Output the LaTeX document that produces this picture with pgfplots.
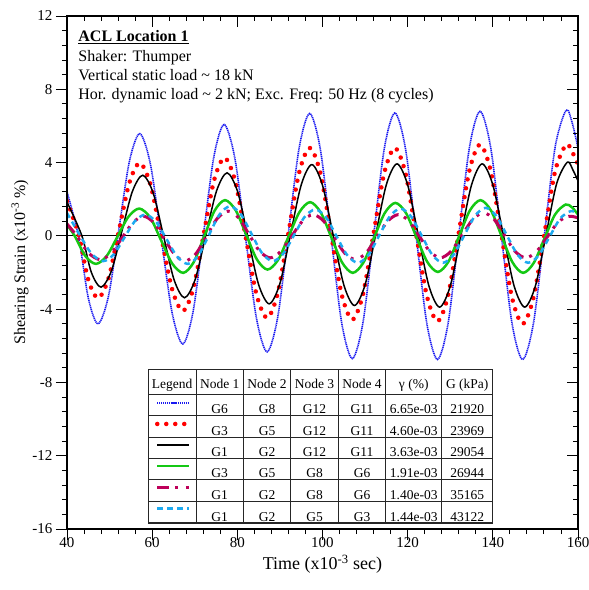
\documentclass[border=0pt]{standalone}
\usepackage{fontspec}
\setmainfont{Liberation Serif}
\usepackage{pgfplots}
\pgfplotsset{compat=1.18}
\definecolor{cblue}{RGB}{25,25,240}
\definecolor{cgreen}{RGB}{20,200,20}
\definecolor{cpurple}{RGB}{190,0,90}
\definecolor{ccyan}{RGB}{30,170,240}
\newcommand\tabfont{\fontsize{13.5}{16}\selectfont}
\newcommand\titfont{\fontsize{16}{19}\selectfont}
\newcommand\tabrow[7]{%
  \node[anchor=base,font=\tabfont] at (axis cs:75.86,#1) {#2};
  \node[anchor=base,font=\tabfont] at (axis cs:86.98,#1) {#3};
  \node[anchor=base,font=\tabfont] at (axis cs:98.13,#1) {#4};
  \node[anchor=base,font=\tabfont] at (axis cs:109.29,#1) {#5};
  \node[anchor=base,font=\tabfont] at (axis cs:121.43,#1) {#6};
  \node[anchor=base,font=\tabfont] at (axis cs:133.99,#1) {#7};
}
\begin{document}
\begin{tikzpicture}
\begin{axis}[
  width=511pt, height=513pt, scale only axis,
  xmin=40, xmax=160, ymin=-16, ymax=12,
  xtick={40,60,...,160}, ytick={-16,-12,...,12},
  minor x tick num=4, minor y tick num=4,
  xtick pos=left, ytick pos=left,
  tick align=outside,
  major tick length=11pt, minor tick length=5pt,
  tick style={black, line width=0.9pt},
  axis line style={line width=1.1pt},
  /pgf/number format/assume math mode=true,
  tick label style={font=\fontsize{15}{18}\selectfont},
  xticklabel style={yshift=6pt},
  xlabel={Time (x10\textsuperscript{-3} sec)},
  ylabel={Shearing Strain (x10\textsuperscript{-3} \%)},
  xlabel style={font=\fontsize{18}{21}\selectfont, at={(axis description cs:0.5,-0.068)}, anchor=center},
  ylabel style={font=\fontsize{16}{19}\selectfont, at={(axis description cs:-0.092,0.52)}, anchor=center},
  no markers,
  legend image code/.code={\path[draw=none,fill=none] (0pt,-10.55pt) rectangle (31.7pt,10.55pt); \draw[#1] (0pt,0pt) -- (31.7pt,0pt);},
  legend style={draw=none, fill=none, inner sep=0pt, outer sep=0pt, row sep=0pt, column sep=0pt,
    nodes={inner sep=0pt, outer sep=0pt}, at={(axis cs:60.67,-8.54)}, anchor=north west},
]
\addplot[forget plot, black, line width=1pt] coordinates {(40,0)(160,0)};

% G6-G8-G12-G11
\addplot[cblue, line width=1.6pt, dash pattern=on 1.2pt off 0.7pt, smooth] coordinates {
(40,2.4)(42.7,0)(45,-3.39)(47.3,-4.8)(49.75,-3.28)(52.2,0.39)(54.65,4.06)(57.1,5.58)(59.6,3.90)(62.15,-0.16)(64.7,-4.22)(67.2,-5.9)(69.6,-4.15)(72.05,0.09)(74.5,4.33)(76.9,6.08)(79.4,4.26)(81.95,-0.13)(84.5,-4.51)(87,-6.33)(89.5,-4.42)(92,0.18)(94.5,4.78)(97,6.68)(99.5,4.72)(102,-0.01)(104.5,-4.74)(107,-6.7)(109.5,-4.74)(112,0.0)(114.5,4.75)(117,6.71)(119.5,4.74)(122,-0.02)(124.5,-4.78)(127,-6.75)(129.5,-4.77)(132,0.03)(134.5,4.82)(137,6.8)(139.5,4.82)(142,0.03)(144.5,-4.77)(147,-6.75)(149.55,-4.76)(152.1,0.06)(154.65,4.87)(157.2,6.86)(158.6,6.2)(160,4.8)};
\addlegendentry{}
% G3-G5-G12-G11
\addplot[red, line width=4.5pt, line cap=round, dash pattern=on 0pt off 9pt, smooth] coordinates {
(40,1.9)(42.8,0)(45,-2.4)(47.3,-3.4)(49.75,-2.32)(52.2,0.29)(54.65,2.90)(57.1,3.98)(59.6,2.80)(62.15,-0.06)(64.7,-2.92)(67.2,-4.1)(69.65,-2.88)(72.1,0.08)(74.55,3.04)(77,4.26)(79.5,2.98)(82,-0.11)(84.5,-3.20)(87,-4.48)(89.5,-3.12)(92,0.16)(94.5,3.44)(97,4.8)(99.5,3.43)(102,0.12)(104.5,-3.20)(107,-4.57)(109.5,-3.20)(112,0.12)(114.5,3.43)(117,4.8)(119.5,3.41)(122,0.07)(124.5,-3.27)(127,-4.66)(129.5,-3.25)(132,0.16)(134.5,3.57)(137,4.98)(139.5,3.55)(142,0.09)(144.5,-3.37)(147,-4.8)(149.55,-3.37)(152.1,0.09)(154.65,3.55)(157.2,4.98)(158.6,4.6)(160,3.9)};
\addlegendentry{}
% G1-G2-G12-G11
\addplot[black, line width=1.5pt, smooth] coordinates {
(40,1.85)(43.5,0)(45.7,-1.98)(48,-2.8)(50.45,-1.90)(52.9,0.26)(55.35,2.42)(57.8,3.31)(60.25,2.33)(62.7,-0.04)(65.15,-2.40)(67.6,-3.38)(70.1,-2.38)(72.6,0.03)(75.1,2.44)(77.6,3.44)(80.1,2.39)(82.55,-0.14)(85,-2.66)(87.5,-3.71)(90,-2.60)(92.5,0.09)(95,2.78)(97.5,3.89)(100,2.76)(102.5,0.05)(105,-2.67)(107.5,-3.8)(110,-2.67)(112.5,0.07)(115,2.80)(117.5,3.93)(120,2.78)(122.5,0.02)(125,-2.74)(127.5,-3.89)(130,-2.74)(132.5,0.02)(135,2.78)(137.5,3.93)(140,2.78)(142.5,0.02)(145,-2.74)(147.5,-3.89)(150,-2.73)(152.5,0.07)(155,2.86)(157.5,4.02)(158.8,3.6)(160,3.0)};
\addlegendentry{}
% G3-G5-G8-G6
\addplot[cgreen, line width=2.5pt, smooth] coordinates {
(40,0.6)(41.8,0)(44.3,-1.1)(46.8,-1.53)(49.35,-1.09)(51.9,-0.02)(54.45,1.05)(57,1.49)(59.6,0.98)(62.15,-0.27)(64.7,-1.51)(67.3,-2.02)(69.75,-1.44)(72.2,-0.04)(74.65,1.37)(77.1,1.95)(79.6,1.40)(82.1,0.06)(84.6,-1.29)(87.1,-1.84)(89.6,-1.30)(92.1,0)(94.6,1.30)(97.1,1.84)(99.6,1.27)(102.1,-0.09)(104.6,-1.45)(107.1,-2.02)(109.6,-1.46)(112.1,-0.11)(114.6,1.24)(117.1,1.8)(119.6,1.25)(122.1,-0.09)(124.6,-1.42)(127.1,-1.97)(129.6,-1.40)(132.1,-0.01)(134.6,1.38)(137.1,1.95)(139.6,1.37)(142.1,-0.04)(144.6,-1.44)(147.1,-2.02)(149.6,-1.48)(152.1,-0.16)(154.6,1.16)(157.1,1.71)(158.6,1.55)(160,1.16)};
\addlegendentry{}
% G1-G2-G8-G6
\addplot[cpurple, line width=3pt, dash pattern=on 11.5pt off 6pt on 3pt off 8pt on 3pt off 6pt, smooth] coordinates {
(40,0.65)(42.3,0)(45,-0.92)(47.8,-1.3)(50.35,-0.95)(52.9,-0.12)(55.45,0.72)(58,1.07)(60.4,0.71)(62.85,-0.16)(65.3,-1.02)(67.7,-1.38)(70.25,-0.98)(72.75,-0.02)(75.3,0.95)(77.8,1.35)(80.3,0.98)(82.75,0.08)(85.2,-0.83)(87.7,-1.2)(90.2,-0.85)(92.75,-0.02)(95.3,0.81)(97.8,1.16)(100.3,0.80)(102.75,-0.07)(105.2,-0.94)(107.7,-1.29)(110.2,-0.94)(112.75,-0.07)(115.3,0.80)(117.8,1.16)(120.3,0.81)(122.75,-0.02)(125.2,-0.85)(127.7,-1.2)(130.2,-0.84)(132.75,0.03)(135.3,0.90)(137.8,1.26)(140.3,0.90)(142.75,0.03)(145.2,-0.84)(147.7,-1.2)(150.2,-0.87)(152.75,-0.07)(155.3,0.74)(157.8,1.07)(160,0.98)};
\addlegendentry{}
% G1-G2-G5-G3
\addplot[ccyan, line width=2.5pt, dash pattern=on 5.5pt off 4.5pt, smooth] coordinates {
(40,1.25)(43.1,0)(45.8,-0.98)(48.5,-1.38)(51,-1.01)(53.45,-0.11)(55.9,0.79)(58.4,1.16)(60.9,0.77)(63.4,-0.19)(65.9,-1.14)(68.4,-1.53)(70.85,-1.07)(73.35,0.05)(75.8,1.16)(78.3,1.62)(80.8,1.18)(83.3,0.12)(85.8,-0.94)(88.3,-1.38)(90.8,-0.97)(93.3,0.03)(95.8,1.03)(98.3,1.44)(100.8,1.02)(103.3,-0.02)(105.8,-1.05)(108.3,-1.47)(110.8,-1.04)(113.3,0.01)(115.8,1.06)(118.3,1.49)(120.8,1.06)(123.3,0.01)(125.8,-1.04)(128.3,-1.47)(130.8,-1.03)(133.3,0.03)(135.8,1.09)(138.3,1.53)(140.8,1.09)(143.3,0.03)(145.8,-1.03)(148.3,-1.47)(150.8,-1.06)(153.3,-0.06)(155.8,0.94)(158.3,1.35)(160,1.2)};
\addlegendentry{}

% title block
\node[anchor=base west, font=\titfont] at (axis cs:41.85,10.59) {\underline{\textbf{ACL Location 1}}};
\node[anchor=base west, font=\titfont] at (axis cs:41.85,9.50) {Shaker: Thumper};
\node[anchor=base west, font=\titfont] at (axis cs:41.85,8.50) {Vertical static load \textasciitilde{} 18 kN};
\node[anchor=base west, font=\titfont] at (axis cs:41.85,7.45) {Hor. dynamic load \textasciitilde{} 2 kN; Exc. Freq: 50 Hz (8 cycles)};

% table
\fill[white] (axis cs:59.09,-7.29) rectangle (axis cs:139.98,-15.67);
\draw[line width=0.8pt, black!85] (axis cs:59.09,-8.66) -- (axis cs:139.98,-8.66)
  (axis cs:59.09,-9.79) -- (axis cs:139.98,-9.79)
  (axis cs:59.09,-10.99) -- (axis cs:139.98,-10.99)
  (axis cs:59.09,-12.15) -- (axis cs:139.98,-12.15)
  (axis cs:59.09,-13.30) -- (axis cs:139.98,-13.30)
  (axis cs:59.09,-14.48) -- (axis cs:139.98,-14.48)
  (axis cs:70.30,-7.29) -- (axis cs:70.30,-15.67)
  (axis cs:81.41,-7.29) -- (axis cs:81.41,-15.67)
  (axis cs:92.54,-7.29) -- (axis cs:92.54,-15.67)
  (axis cs:103.72,-7.29) -- (axis cs:103.72,-15.67)
  (axis cs:114.85,-7.29) -- (axis cs:114.85,-15.67)
  (axis cs:128.0,-7.29) -- (axis cs:128.0,-15.67);
\draw[line width=1.2pt, black!85] (axis cs:59.09,-7.29) rectangle (axis cs:139.98,-15.67);
\node[anchor=base,font=\tabfont] at (axis cs:64.70,-8.35) {Legend};
\tabrow{-8.35}{Node 1}{Node 2}{Node 3}{Node 4}{γ (\%)}{G (kPa)}
\tabrow{-9.69}{G6}{G8}{G12}{G11}{6.65e-03}{21920}
\tabrow{-10.90}{G3}{G5}{G12}{G11}{4.60e-03}{23969}
\tabrow{-12.06}{G1}{G2}{G12}{G11}{3.63e-03}{29054}
\tabrow{-13.21}{G3}{G5}{G8}{G6}{1.91e-03}{26944}
\tabrow{-14.39}{G1}{G2}{G8}{G6}{1.40e-03}{35165}
\tabrow{-15.58}{G1}{G2}{G5}{G3}{1.44e-03}{43122}
\end{axis}
\begin{axis}[
  width=511pt, height=513pt, scale only axis,
  xmin=40, xmax=160, ymin=-16, ymax=12,
  xtick={40,60,...,160}, ytick={-16,-12,...,12},
  minor x tick num=4, minor y tick num=4,
  xtick pos=right, ytick pos=right,
  tick align=inside,
  major tick length=11pt, minor tick length=5pt,
  tick style={black, line width=0.9pt},
  axis line style={line width=1.1pt},
  xticklabels={}, yticklabels={},
]
\end{axis}
\pgfresetboundingbox
\path (current axis.south west) ++(-67pt,-61pt) rectangle ++(589pt,590pt);
\end{tikzpicture}
\end{document}
